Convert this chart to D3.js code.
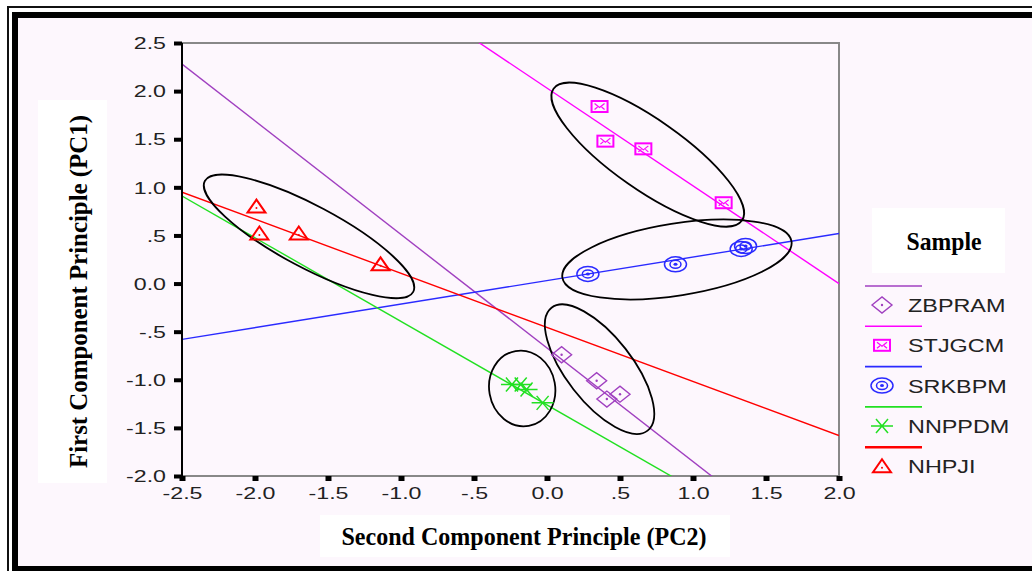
<!DOCTYPE html>
<html>
<head>
<meta charset="utf-8">
<script src="https://cdn.jsdelivr.net/npm/d3@7"></script>
<style>
  html, body { margin: 0; padding: 0; background: #ffffff; }
  svg { display: block; }
</style>
</head>
<body>
<div id="chart"></div>
<script>
// Axis ticks
const xTicks = [-2.5, -2, -1.5, -1, -0.5, 0, 0.5, 1, 1.5, 2];
const xTickLabels = ['-2.5', '-2.0', '-1.5', '-1.0', '-.5', '0.0', '.5', '1.0', '1.5', '2.0'];
const yTicks = [-2, -1.5, -1, -0.5, 0, 0.5, 1, 1.5, 2, 2.5];
const yTickLabels = ['-2.0', '-1.5', '-1.0', '-.5', '0.0', '.5', '1.0', '1.5', '2.0', '2.5'];

// Samples
const samples = ['ZBPRAM', 'STJGCM', 'SRKBPM', 'NNPPDM', 'NHPJI'];

// Points (PC2 on x, PC1 on y)
const zbpramPC2 = [0.10, 0.34, 0.41, 0.50];
const zbpramPC1 = [-0.74, -1.01, -1.20, -1.15];
const stjgcmPC2 = [0.36, 0.40, 0.66, 1.21];
const stjgcmPC1 = [1.84, 1.48, 1.40, 0.84];
const srkbpmPC2 = [0.28, 0.88, 1.33, 1.36];
const srkbpmPC1 = [0.10, 0.20, 0.36, 0.39];
const nnppdmPC2 = [-0.24, -0.18, -0.14, -0.03];
const nnppdmPC1 = [-1.05, -1.05, -1.10, -1.24];
const nhpjiPC2 = [-1.99, -1.97, -1.70, -1.14];
const nhpjiPC1 = [0.80, 0.52, 0.52, 0.20];

// Fit lines: PC1 value at PC2 = -2.5 and at PC2 = 2.0
const fitFrom = [2.28, 4.57, -0.58, 0.91, 0.95];
const fitTo = [-3.03, 0.00, 0.52, -3.00, -1.58];

// Cluster ellipse centres
const clusterPC2 = [0.36, 0.69, 0.89, -0.17, -1.63];
const clusterPC1 = [-0.89, 1.34, 0.25, -1.09, 0.49];

const colors = ['#a040c0', '#ff00ff', '#2a2aff', '#22e022', '#ff0000'];
const pc2s = [zbpramPC2, stjgcmPC2, srkbpmPC2, nnppdmPC2, nhpjiPC2];
const pc1s = [zbpramPC1, stjgcmPC1, srkbpmPC1, nnppdmPC1, nhpjiPC1];

// ellipse shape (pixels): half length, half width, rotation
const ellipseShape = [
  { a: 78, b: 33, angle: 52 },
  { a: 115, b: 35, angle: 35 },
  { a: 116, b: 36, angle: -9 },
  { a: 38, b: 33, angle: 80 },
  { a: 118, b: 31, angle: 28 },
];

const width = 1032;
const height = 571;
const plot = { left: 182, right: 839, top: 43, bottom: 476 };

const svg = d3.select('#chart')
  .append('svg')
  .attr('width', width)
  .attr('height', height);

// page background and frame
svg.append('rect').attr('width', width).attr('height', height).attr('fill', '#ffffff');
svg.append('rect')
  .attr('x', 15).attr('y', 15).attr('width', 1030).attr('height', 555)
  .attr('fill', '#fdf7fd');
svg.append('rect')
  .attr('x', 8).attr('y', 7).attr('width', 1040).attr('height', 580)
  .attr('fill', 'none').attr('stroke', '#111').attr('stroke-width', 2);
svg.append('rect')
  .attr('x', 15).attr('y', 15).attr('width', 1030).attr('height', 554)
  .attr('fill', 'none').attr('stroke', '#000').attr('stroke-width', 6);

const xScale = d3.scaleLinear().domain([-2.5, 2]).range([plot.left, plot.right]);
const yScale = d3.scaleLinear().domain([-2, 2.5]).range([plot.bottom, plot.top]);

// white boxes behind titles
svg.append('rect').attr('x', 38).attr('y', 100).attr('width', 69).attr('height', 383).attr('fill', '#ffffff');
svg.append('rect').attr('x', 320).attr('y', 515).attr('width', 410).attr('height', 42).attr('fill', '#ffffff');
svg.append('rect').attr('x', 872).attr('y', 208).attr('width', 133).attr('height', 65).attr('fill', '#ffffff');

// plot border
svg.append('rect')
  .attr('x', plot.left).attr('y', plot.top)
  .attr('width', plot.right - plot.left).attr('height', plot.bottom - plot.top)
  .attr('fill', 'none').attr('stroke', '#888').attr('stroke-width', 2);

svg.append('clipPath').attr('id', 'plot-clip')
  .append('rect')
  .attr('x', plot.left).attr('y', plot.top)
  .attr('width', plot.right - plot.left).attr('height', plot.bottom - plot.top);

const inner = svg.append('g').attr('clip-path', 'url(#plot-clip)');

// fit lines
inner.selectAll('line.fit')
  .data(samples)
  .join('line')
  .attr('class', 'fit')
  .attr('x1', xScale(-2.5))
  .attr('x2', xScale(2))
  .attr('y1', (d, i) => yScale(fitFrom[i]))
  .attr('y2', (d, i) => yScale(fitTo[i]))
  .attr('stroke', (d, i) => colors[i])
  .attr('stroke-width', 1.4);

// cluster ellipses
inner.selectAll('ellipse.cluster')
  .data(clusterPC2)
  .join('ellipse')
  .attr('class', 'cluster')
  .attr('transform', (d, i) => `translate(${xScale(d)},${yScale(clusterPC1[i])}) rotate(${ellipseShape[i].angle})`)
  .attr('rx', (d, i) => ellipseShape[i].a)
  .attr('ry', (d, i) => ellipseShape[i].b)
  .attr('fill', 'none')
  .attr('stroke', '#000')
  .attr('stroke-width', 1.8);

// marker drawers
function drawMarker(g, idx) {
  const c = colors[idx];
  if (idx === 0) {
    g.append('path').attr('d', 'M-10,0L0,-8L10,0L0,8Z')
      .attr('fill', 'none').attr('stroke', c).attr('stroke-width', 1.4);
    g.append('circle').attr('r', 1.2).attr('fill', c);
  } else if (idx === 1) {
    g.append('rect').attr('x', -8).attr('y', -5.5).attr('width', 16).attr('height', 11)
      .attr('fill', 'none').attr('stroke', c).attr('stroke-width', 2);
    g.append('path').attr('d', 'M-5,-3L0,1L5,-3M-5,3L-2,0.5M5,3L2,0.5')
      .attr('fill', 'none').attr('stroke', c).attr('stroke-width', 1.2);
  } else if (idx === 2) {
    g.append('ellipse').attr('rx', 11).attr('ry', 7.5)
      .attr('fill', 'none').attr('stroke', c).attr('stroke-width', 1.5);
    g.append('ellipse').attr('rx', 5.5).attr('ry', 4)
      .attr('fill', 'none').attr('stroke', c).attr('stroke-width', 1.5);
    g.append('ellipse').attr('rx', 2).attr('ry', 1.5).attr('fill', c);
  } else if (idx === 3) {
    g.append('path').attr('d', 'M-11,0L11,0M-6,-7L6,7M-6,7L6,-7')
      .attr('fill', 'none').attr('stroke', c).attr('stroke-width', 1.5);
  } else {
    g.append('path').attr('d', 'M0,-7L9,6L-9,6Z')
      .attr('fill', 'none').attr('stroke', c).attr('stroke-width', 2);
    g.append('circle').attr('cy', 1.5).attr('r', 1).attr('fill', c);
  }
}

// points
samples.forEach((name, i) => {
  const pts = pc2s[i].map((x, j) => ({ x, y: pc1s[i][j] }));
  const grp = svg.append('g').attr('class', 'series-' + name);
  grp.selectAll('g')
    .data(pts)
    .join('g')
    .attr('transform', (d) => `translate(${xScale(d.x)},${yScale(d.y)})`)
    .each(function () { drawMarker(d3.select(this), i); });
});

// axes
const yAxis = d3.axisLeft(yScale)
  .tickValues(yTicks)
  .tickFormat((d, i) => yTickLabels[i])
  .tickSize(8)
  .tickPadding(0);

const yAxisG = svg.append('g')
  .attr('transform', `translate(${plot.left},0)`)
  .call(yAxis);
yAxisG.select('.domain').remove();
yAxisG.selectAll('.tick line').attr('stroke', '#000').attr('stroke-width', 4);
yAxisG.selectAll('.tick text')
  .attr('x', 0)
  .attr('dy', '0.36em')
  .attr('transform', 'translate(-16,0) scale(1.45,1)')
  .style('font-family', 'Liberation Sans, Arial, sans-serif')
  .style('font-size', '16px')
  .attr('fill', '#222');

const xAxis = d3.axisBottom(xScale)
  .tickValues(xTicks)
  .tickFormat((d, i) => xTickLabels[i])
  .tickSize(5)
  .tickPadding(0);

const xAxisG = svg.append('g')
  .attr('transform', `translate(0,${plot.bottom})`)
  .call(xAxis);
xAxisG.select('.domain').remove();
xAxisG.selectAll('.tick line').attr('stroke', '#000').attr('stroke-width', 6);
xAxisG.selectAll('.tick text')
  .attr('y', 0)
  .attr('dy', null)
  .attr('transform', 'translate(0,23) scale(1.45,1)')
  .style('font-family', 'Liberation Sans, Arial, sans-serif')
  .style('font-size', '16px')
  .attr('fill', '#222');

// left axis line on top
svg.append('line')
  .attr('x1', plot.left).attr('x2', plot.left)
  .attr('y1', plot.top).attr('y2', plot.bottom + 4)
  .attr('stroke', '#000').attr('stroke-width', 2);

// axis titles
svg.append('text')
  .attr('transform', 'translate(87,291.5) rotate(-90)')
  .attr('text-anchor', 'middle')
  .attr('textLength', 353)
  .attr('lengthAdjust', 'spacingAndGlyphs')
  .style('font-family', 'Liberation Serif, Times New Roman, serif')
  .style('font-weight', 'bold')
  .style('font-size', '25px')
  .text('First Component Principle (PC1)');

svg.append('text')
  .attr('x', 524).attr('y', 545)
  .attr('text-anchor', 'middle')
  .attr('textLength', 365)
  .attr('lengthAdjust', 'spacingAndGlyphs')
  .style('font-family', 'Liberation Serif, Times New Roman, serif')
  .style('font-weight', 'bold')
  .style('font-size', '25px')
  .text('Second Component Principle (PC2)');

// legend
svg.append('text')
  .attr('x', 944).attr('y', 250)
  .attr('text-anchor', 'middle')
  .attr('textLength', 75)
  .attr('lengthAdjust', 'spacingAndGlyphs')
  .style('font-family', 'Liberation Serif, Times New Roman, serif')
  .style('font-weight', 'bold')
  .style('font-size', '25px')
  .text('Sample');

const legend = svg.append('g').attr('transform', 'translate(865,286)');
const rowGap = 40.3;
samples.forEach((name, i) => {
  const row = legend.append('g').attr('transform', `translate(0,${i * rowGap})`);
  row.append('line')
    .attr('x1', 0).attr('x2', 57)
    .attr('y1', 0).attr('y2', 0)
    .attr('stroke', colors[i])
    .attr('stroke-width', i === 4 ? 2.5 : 1.6);
  const m = row.append('g').attr('transform', 'translate(17,19)');
  drawMarker(m, i);
  row.append('text')
    .attr('transform', 'translate(43,26) scale(1.3,1)')
    .style('font-family', 'Liberation Sans, Arial, sans-serif')
    .style('font-size', '18px')
    .attr('fill', '#222')
    .text(name);
});
</script>
</body>
</html>
